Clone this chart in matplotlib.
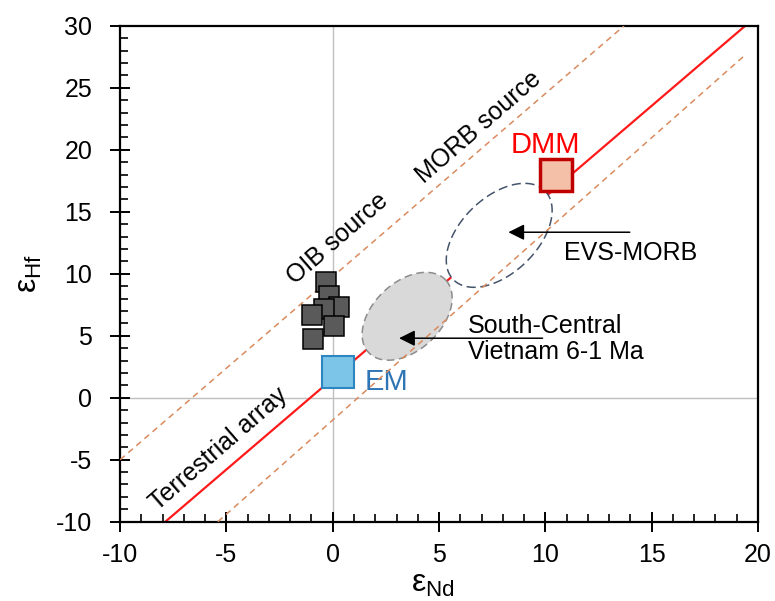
import numpy as np
import matplotlib.pyplot as plt
from matplotlib.ticker import MultipleLocator

plt.rcParams['font.family'] = ['Liberation Sans', 'DejaVu Sans']
plt.rcParams['mathtext.fontset'] = 'custom'
plt.rcParams['mathtext.rm'] = 'Liberation Sans'
plt.rcParams['mathtext.it'] = 'Liberation Sans'
plt.rcParams['axes.unicode_minus'] = False

# OIB samples (eNd, eHf)
oib_nd = [-0.31, -0.19, 0.28, -0.39, -0.98, 0.06, -0.95]
oib_hf = [9.34, 8.21, 7.35, 7.19, 6.65, 5.78, 4.71]

# end-members
em_nd, em_hf = 0.27, 2.1
dmm_nd, dmm_hf = 10.5, 18.0

# terrestrial array and its bounds (end points)
terr_nd = [-7.87, 19.4]
terr_hf = [-10, 30]
upper_nd = [-10, 13.7]
upper_hf = [-5, 30]
lower_nd = [-5.4, 19.3]
lower_hf = [-10, 27.5]

# fields: centre, half major axis, half minor axis (data units)
evs_c, evs_u, evs_v = (7.83, 13.1), (2.17, 3.55), (1.22, -2.23)
scv_c, scv_u, scv_v = (3.5, 6.57), (1.82, 2.91), (1.08, -2.02)


def ellipse(c, u, v, n=300):
    t = np.linspace(0, 2 * np.pi, n)
    x = c[0] + u[0] * np.cos(t) + v[0] * np.sin(t)
    y = c[1] + u[1] * np.cos(t) + v[1] * np.sin(t)
    return x, y


fig = plt.figure(figsize=(7.75, 6.01), dpi=100)
ax = fig.add_axes([0.155, 0.132, 0.823, 0.825])

ax.axvline(0, color='#BFBFBF', lw=1, zorder=1)
ax.axhline(0, color='#BFBFBF', lw=1, zorder=1)

ax.plot(terr_nd, terr_hf, color='#FF1A1A', lw=1.6, zorder=2)

x, y = ellipse(scv_c, scv_u, scv_v)
ax.fill(x, y, facecolor='#D9D9D9', edgecolor='#8C8C8C', lw=1.1,
        linestyle=(0, (5, 3)), zorder=3)
x, y = ellipse(evs_c, evs_u, evs_v)
ax.fill(x, y, facecolor='white', edgecolor='#44546A', lw=1.1,
        linestyle=(0, (6, 3)), zorder=3)

for xs, ys in [(upper_nd, upper_hf), (lower_nd, lower_hf)]:
    ax.plot(xs, ys, color='#D98B5F', lw=1.1, linestyle=(0, (4, 3)), zorder=4)

ax.plot(oib_nd, oib_hf, 's', ms=15, mfc='#5A5A5A', mec='black', mew=1.1,
        zorder=5, linestyle='none')
ax.plot(em_nd, em_hf, 's', ms=23, mfc='#7CC5E8', mec='#2E86C1', mew=1.5, zorder=5)
ax.plot(dmm_nd, dmm_hf, 's', ms=23, mfc='#F4C0A8', mec='#C00000', mew=2.5, zorder=5)

ax.text(1.5, 1.3, 'EM', color='#2E75B6', fontsize=21, va='center', ha='left')
ax.text(10.0, 20.4, 'DMM', color='#FF0000', fontsize=21, va='center', ha='center')

arrow = dict(arrowstyle='-|>', color='black', lw=1.1, mutation_scale=24)
ax.annotate('', xy=(8.13, 13.35), xytext=(14.1, 13.35), arrowprops=arrow, zorder=6)
ax.annotate('', xy=(2.99, 4.8), xytext=(10.0, 4.8), arrowprops=arrow, zorder=6)

ax.text(10.9, 11.7, 'EVS-MORB', fontsize=18, va='center', ha='left')
ax.text(6.36, 4.75, 'South-Central\nVietnam 6-1 Ma', fontsize=18, va='center',
        ha='left', linespacing=1.1)

ax.text(0.23, 12.8, 'OIB source', fontsize=18, rotation=41,
        ha='center', va='center', rotation_mode='anchor')
ax.text(6.87, 21.84, 'MORB source', fontsize=18, rotation=41,
        ha='center', va='center', rotation_mode='anchor')
ax.text(-5.35, -4.1, 'Terrestrial array', fontsize=18, rotation=41,
        ha='center', va='center', rotation_mode='anchor')

ax.set_xlim(-10, 20)
ax.set_ylim(-10, 30)
ax.xaxis.set_major_locator(MultipleLocator(5))
ax.yaxis.set_major_locator(MultipleLocator(5))
ax.xaxis.set_minor_locator(MultipleLocator(1))
ax.yaxis.set_minor_locator(MultipleLocator(1))
ax.tick_params(which='major', direction='inout', length=14, width=1.4,
               labelsize=18)
ax.tick_params(axis='x', which='major', pad=8)
ax.tick_params(axis='y', which='major', pad=13)
ax.tick_params(which='minor', direction='in', length=6, width=1.2)
for s in ax.spines.values():
    s.set_linewidth(1.6)

ax.set_xlabel('ε$_{\\mathrm{Nd}}$', fontsize=23)
ax.set_ylabel('ε$_{\\mathrm{Hf}}$', fontsize=23)
ax.xaxis.set_label_coords(0.49, -0.096)
ax.yaxis.set_label_coords(-0.12, 0.5)

fig.savefig('out.png', dpi=100)
